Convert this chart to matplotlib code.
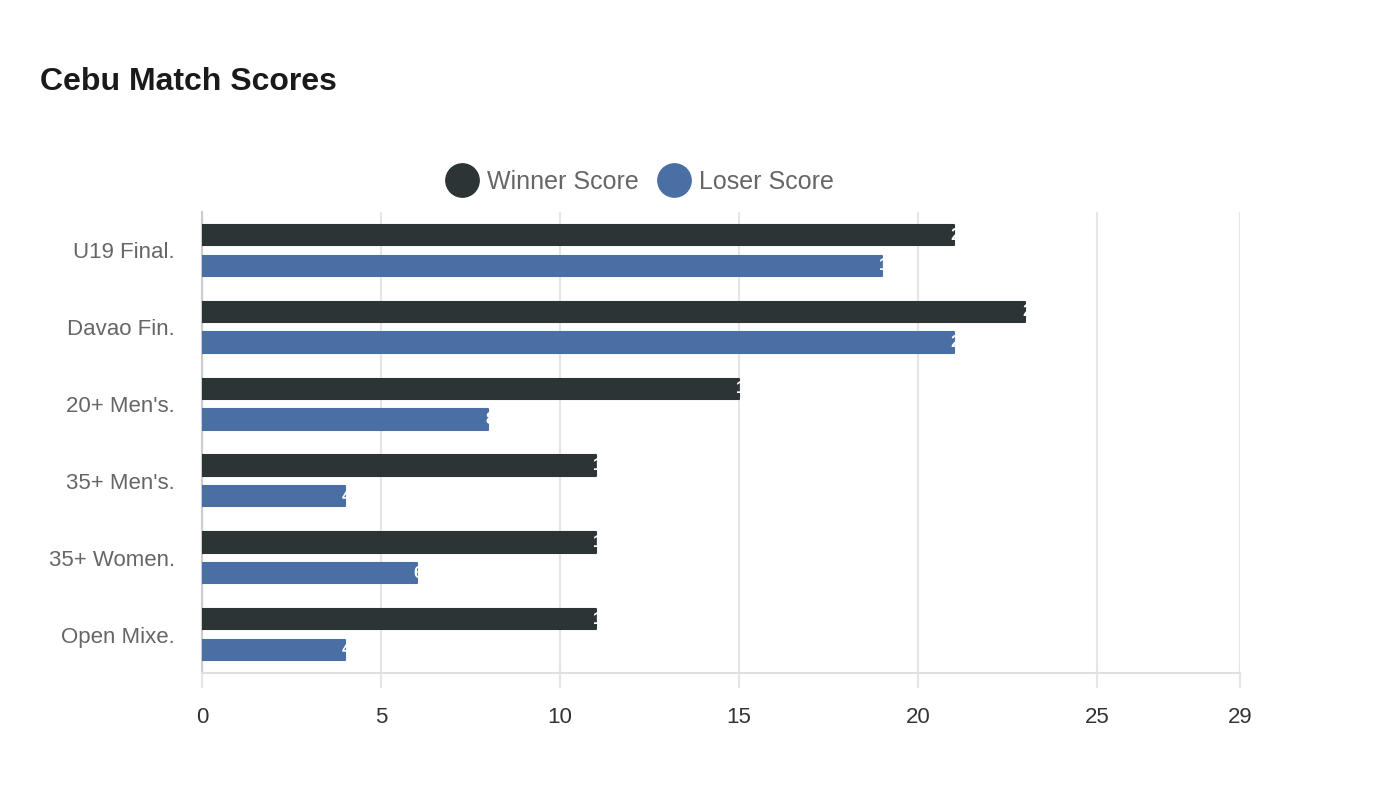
import matplotlib
matplotlib.use("Agg")
import matplotlib.pyplot as plt
from matplotlib.lines import Line2D
from matplotlib.transforms import offset_copy
import numpy as np

plt.rcParams['font.family'] = ['Liberation Sans', 'DejaVu Sans']

categories = ["U19 Final.", "Davao Fin.", "20+ Men's.", "35+ Men's.", "35+ Women.", "Open Mixe."]
winner_scores = [21, 23, 15, 11, 11, 11]
loser_scores = [19, 21, 8, 4, 6, 4]
series_names = ["Winner Score", "Loser Score"]
x_ticks = [0, 5, 10, 15, 20, 25, 29]

WIN_C = '#2d3436'
LOSE_C = '#4a6fa5'

fig = plt.figure(figsize=(14, 8), dpi=100)
ax = fig.add_axes([202/1400, 1-673/800, (1240-202)/1400, (673-212)/800])

y = np.arange(len(categories))
off = 0.2
h = 0.265
bw = ax.barh(y - off, winner_scores, height=h, color=WIN_C, edgecolor=WIN_C,
             linewidth=1.5, joinstyle='round', zorder=3)
bl = ax.barh(y + off, loser_scores, height=h, color=LOSE_C, edgecolor=LOSE_C,
             linewidth=1.5, joinstyle='round', zorder=3)

# value labels (white, almost entirely clipped by the bar like in the reference)
trans = offset_copy(ax.transData, fig=fig, x=-3, y=0, units='dots')
for bars, vals in ((bw, winner_scores), (bl, loser_scores)):
    for b, v in zip(bars, vals):
        t = ax.text(v, b.get_y() + b.get_height()/2, str(v), color='white',
                    ha='left', va='center', fontsize=12, fontweight='bold',
                    zorder=4, transform=trans)
        t.set_clip_path(b)

ax.set_xlim(0, 29)
ax.set_ylim(len(categories) - 0.5, -0.5)
ax.set_xticks(x_ticks)
ax.set_xticklabels([str(t) for t in x_ticks])
ax.set_yticks(y)
ax.set_yticklabels(categories)

ax.grid(axis='x', color='#e6e6e6', linewidth=1.5, zorder=0)
ax.set_axisbelow(True)
for s in ['top', 'right']:
    ax.spines[s].set_visible(False)
ax.spines['left'].set_color('#cccccc')
ax.spines['left'].set_linewidth(1.5)
ax.spines['bottom'].set_color('#e0e0e0')
ax.spines['bottom'].set_linewidth(1.5)

ax.tick_params(axis='y', length=0, pad=19.5, labelsize=16, labelcolor='#666666')
ax.tick_params(axis='x', length=11, width=1.5, color='#e6e6e6', pad=13.5,
               labelsize=16, labelcolor='#333333')

fig.text(40/1400, 1-82/800, "Cebu Match Scores", fontsize=23, fontweight='bold',
         color='#1a1a1a', ha='left', va='center')

handles = [Line2D([], [], marker='o', linestyle='none', markersize=24,
                  markerfacecolor=c, markeredgecolor=c) for c in (WIN_C, LOSE_C)]
fig.legend(handles, series_names, loc='center', bbox_to_anchor=(639/1400, 1-182/800),
           ncol=2, frameon=False, fontsize=18, labelcolor='#666666',
           handletextpad=0.3, columnspacing=0.7, handlelength=1.4)

fig.savefig('out.png', dpi=100, facecolor='white')
